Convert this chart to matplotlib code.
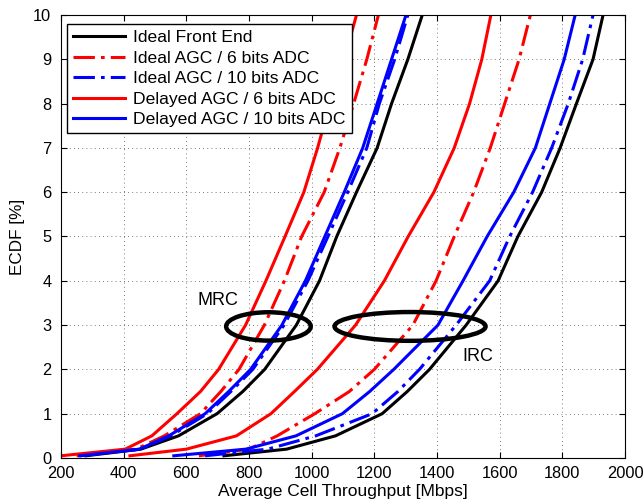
import matplotlib
matplotlib.use("Agg")
import matplotlib.pyplot as plt
from matplotlib.patches import Ellipse

plt.rcParams['font.family'] = ['Liberation Sans', 'DejaVu Sans']

# ECDF levels [%] and throughput [Mbps] at each level
ecdf = [0.05, 0.2, 0.5, 1, 1.5, 2, 3, 4, 5, 6, 7, 8, 9, 10]

# MRC receiver
mrc_ideal_fe = [280, 455, 575, 698, 780, 850, 951, 1025, 1080, 1143, 1209, 1255, 1307, 1353]
mrc_agc6     = [250, 440, 530, 645, 710, 768, 849, 913, 968, 1040, 1090, 1134, 1176, 1213]
mrc_agc10    = [260, 455, 550, 667, 742, 812, 912, 988, 1052, 1115, 1176, 1216, 1265, 1307]
mrc_del6     = [200, 405, 490, 570, 645, 703, 789, 854, 915, 975, 1019, 1058, 1104, 1143]
mrc_del10    = [260, 450, 544, 660, 735, 805, 905, 980, 1042, 1104, 1163, 1209, 1255, 1301]

# IRC receiver
irc_ideal_fe = [720, 920, 1076, 1225, 1305, 1376, 1493, 1595, 1658, 1734, 1793, 1845, 1898, 1930]
irc_agc6     = [640, 800, 890, 1010, 1120, 1200, 1323, 1397, 1455, 1517, 1570, 1616, 1662, 1698]
irc_agc10    = [660, 860, 1013, 1193, 1275, 1344, 1461, 1568, 1632, 1705, 1766, 1819, 1865, 1898]
irc_del6     = [420, 600, 760, 870, 945, 1018, 1140, 1232, 1308, 1390, 1455, 1504, 1543, 1572]
irc_del10    = [560, 790, 950, 1098, 1185, 1262, 1403, 1483, 1560, 1645, 1714, 1760, 1806, 1841]

series = [
    ("Ideal Front End",           mrc_ideal_fe, irc_ideal_fe, "black", "solid"),
    ("Ideal AGC / 6 bits ADC",    mrc_agc6,     irc_agc6,     "red",   "dashdot"),
    ("Ideal AGC / 10 bits ADC",   mrc_agc10,    irc_agc10,    "blue",  "dashdot"),
    ("Delayed AGC / 6 bits ADC",  mrc_del6,     irc_del6,     "red",   "solid"),
    ("Delayed AGC / 10 bits ADC", mrc_del10,    irc_del10,    "blue",  "solid"),
]

fig = plt.figure(figsize=(6.43, 5.04), dpi=100)
ax = fig.add_axes([61 / 643, 1 - 458 / 504, 564 / 643, 443 / 504])

dashdot = (0, (7, 2, 1.2, 2))
for label, mrc, irc, color, ls in series:
    style = dashdot if ls == "dashdot" else "-"
    ax.plot(mrc, ecdf, color=color, linestyle=style, lw=2.2, label=label)
    ax.plot(irc, ecdf, color=color, linestyle=style, lw=2.2)

# receiver group markers
ax.add_patch(Ellipse((862, 2.97), 270, 0.64, fill=False, lw=3.2, color="black", zorder=5))
ax.add_patch(Ellipse((1314, 2.97), 482, 0.65, fill=False, lw=3.2, color="black", zorder=5))
ax.text(700, 3.55, "MRC", fontsize=13, ha="center", va="center")
ax.text(1530, 2.28, "IRC", fontsize=13, ha="center", va="center")

ax.set_xlim(200, 2000)
ax.set_ylim(0, 10)
ax.set_xticks(range(200, 2001, 200))
ax.set_yticks(range(0, 11))
ax.grid(True, linestyle=(0, (1, 4)), color="black", lw=0.6, alpha=0.7)
ax.tick_params(direction="in", top=True, right=True, labelsize=11.8, length=4)
ax.tick_params(axis="y", pad=7)
ax.tick_params(axis="x", pad=6)
ax.set_xlabel("Average Cell Throughput [Mbps]", fontsize=12.5, labelpad=2)
ax.set_ylabel("ECDF [%]", fontsize=12.3, labelpad=6)

leg = ax.legend(loc="upper left", bbox_to_anchor=(0.01, 0.98), fontsize=12.6,
                fancybox=False, framealpha=1, edgecolor="black",
                handlelength=3.0, labelspacing=0.3, borderpad=0.35,
                handletextpad=0.45, borderaxespad=0)
leg.get_frame().set_linewidth(1.0)

fig.savefig("out.png", dpi=100)
